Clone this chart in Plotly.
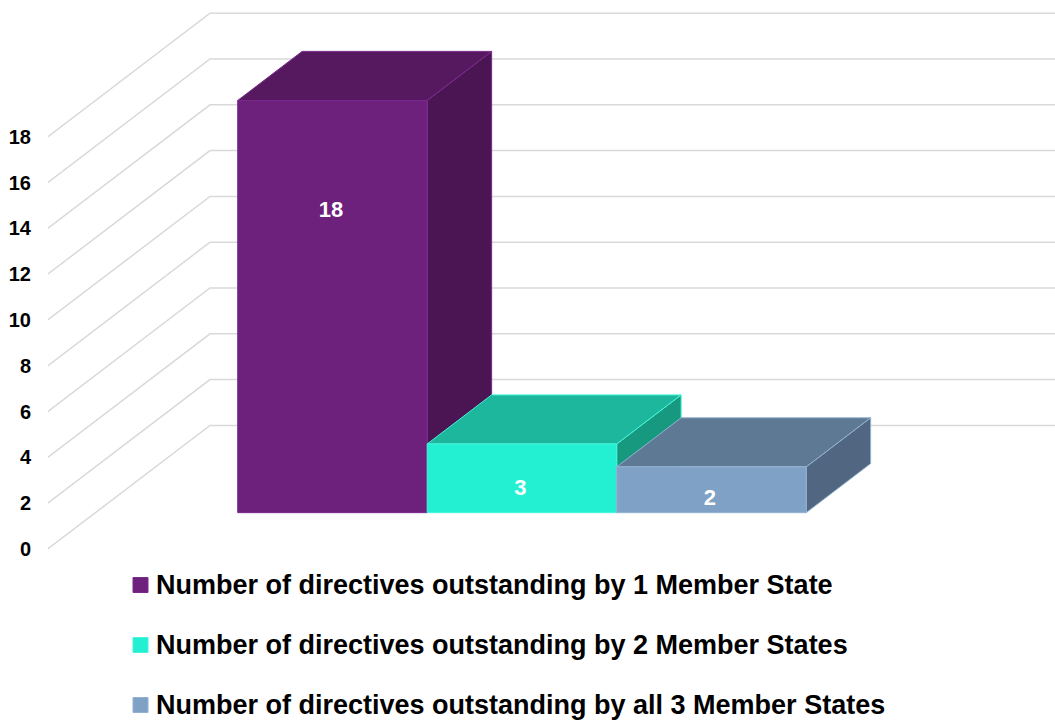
import plotly.graph_objects as go

# ---------------- data ----------------
categories = [
    "Number of directives outstanding by 1 Member State",
    "Number of directives outstanding by 2 Member States",
    "Number of directives outstanding by all 3 Member States",
]
values = [18, 3, 2]
tick_values = [0, 2, 4, 6, 8, 10, 12, 14, 16, 18]
tick_labels = ["0", "2", "4", "6", "8", "10", "12", "14", "16", "18"]

# ---------------- styles ----------------
front_colors = ["#6E207D", "#23F0D2", "#7FA1C5"]
top_colors = ["#561960", "#1DB79D", "#5E7994"]
side_colors = ["#4A1552", "#179980", "#516680"]
edge_colors = ["#7A2A8C", "#45F5DA", "#93B2D2"]
label_frac = [0.73, 0.335, 0.284]   # vertical placement of value labels within bars
FONT = "Liberation Sans, Arial, sans-serif"

# ---------------- geometry (pseudo 3-D projection) ----------------
W, H = 1055, 720
UNIT = 22.9          # px per value unit
Y0_PX = 549.0        # pixel row of value 0 on the front plane
AX_X = 47.7          # front-plane x of the value axis
DEPTH_DX = 162.3     # full depth, horizontal shift (x units = px)
DEPTH_DY = 123.6 / UNIT  # full depth, vertical shift (value units)
BAR_D0, BAR_D1 = 0.294, 0.691
BAR_X0, BAR_W = 237.7, 189.5
LEFT = 48
LEG_MARK_X, LEG_TEXT_X = 140.5, 153.5
LEG_Y0, LEG_STEP = 585, 60


def px_to_val(py):
    return (Y0_PX - py) / UNIT


fig = go.Figure()

# gridlines: oblique side wall + back wall
gx, gy = [], []
for v in tick_values:
    gx += [AX_X, AX_X + DEPTH_DX, W, None]
    gy += [v, v + DEPTH_DY, v + DEPTH_DY, None]
fig.add_trace(go.Scatter(x=gx, y=gy, mode="lines", line=dict(color="#D9D9D9", width=1.5),
                         hoverinfo="skip", showlegend=False))

base = BAR_D0 * DEPTH_DY
ddx = (BAR_D1 - BAR_D0) * DEPTH_DX
ddy = (BAR_D1 - BAR_D0) * DEPTH_DY

for i, v in enumerate(values):
    xa = BAR_X0 + i * BAR_W
    xb = xa + BAR_W
    top = base + v
    edge = dict(color=edge_colors[i], width=1)
    # side face
    fig.add_trace(go.Scatter(x=[xb, xb, xb + ddx, xb + ddx, xb],
                             y=[base, top, top + ddy, base + ddy, base],
                             fill="toself", fillcolor=side_colors[i], mode="lines", line=edge,
                             hoverinfo="skip", showlegend=False))
    # top face
    fig.add_trace(go.Scatter(x=[xa, xb, xb + ddx, xa + ddx, xa],
                             y=[top, top, top + ddy, top + ddy, top],
                             fill="toself", fillcolor=top_colors[i], mode="lines", line=edge,
                             hoverinfo="skip", showlegend=False))
    # front face
    fig.add_trace(go.Scatter(x=[xa, xb, xb, xa, xa],
                             y=[base, base, top, top, base],
                             fill="toself", fillcolor=front_colors[i], mode="lines", line=edge,
                             hoverinfo="text", text=f"{categories[i]}: {v}", showlegend=False))

# value labels
fig.add_trace(go.Scatter(
    x=[BAR_X0 + (i + 0.5) * BAR_W - 1.5 for i in range(len(values))],
    y=[base + v * f for v, f in zip(values, label_frac)],
    mode="text", text=[str(v) for v in values],
    textfont=dict(family=FONT, size=22, color="white", weight="bold"),
    hoverinfo="skip", showlegend=False))

# legend (drawn manually to match marker/text spacing)
for i, name in enumerate(categories):
    yv = px_to_val(LEG_Y0 + i * LEG_STEP)
    fig.add_trace(go.Scatter(x=[LEG_MARK_X], y=[yv], mode="markers", name=name,
                             marker=dict(symbol="square", size=15, color=front_colors[i],
                                         line=dict(color=edge_colors[i], width=1)),
                             hoverinfo="name", showlegend=False))
    fig.add_annotation(x=LEG_TEXT_X, y=yv, xref="x", yref="y", text=name, showarrow=False,
                       xanchor="left", yanchor="middle",
                       font=dict(family=FONT, size=27, color="black", weight="bold"))

fig.update_layout(
    width=W, height=H,
    margin=dict(l=LEFT, r=0, t=0, b=0),
    paper_bgcolor="white", plot_bgcolor="white",
    xaxis=dict(range=[LEFT, W], visible=False, fixedrange=True),
    yaxis=dict(range=[px_to_val(H), px_to_val(0)], tickvals=tick_values, ticktext=tick_labels,
               showgrid=False, zeroline=False, showline=False, ticks="", ticklabelstandoff=16,
               tickfont=dict(family=FONT, size=20, color="black", weight="bold"), fixedrange=True),
    showlegend=False,
)

fig.write_html("out.html", config={"displayModeBar": False},
               post_script="document.body.style.margin='0';document.body.style.overflow='hidden';")
